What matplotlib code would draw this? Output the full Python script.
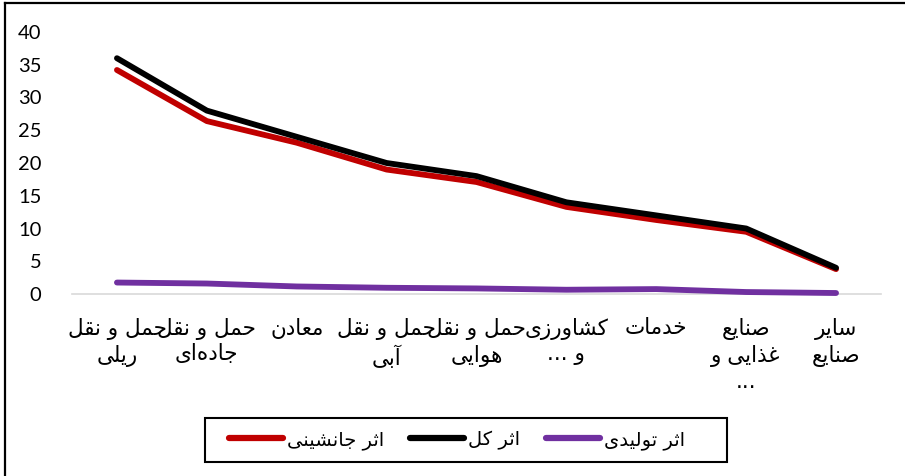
import matplotlib
matplotlib.use("Agg")
import matplotlib.pyplot as plt
from matplotlib.lines import Line2D
from matplotlib.patches import Rectangle

# ---------------- data ----------------
categories = [
    "حمل و نقل\nریلی",
    "حمل و نقل\nجاده\u200cای",
    "معادن",
    "حمل و نقل\nآبی",
    "حمل و نقل\nهوایی",
    "کشاورزی\nو ...",
    "خدمات",
    "صنایع\nغذایی و\n...",
    "سایر\nصنایع",
]
total_effect = [36, 28, 24, 20, 18, 14, 12, 10, 4]            # اثر کل
substitution_effect = [34.2, 26.4, 23.1, 19.0, 17.1, 13.3, 11.3, 9.5, 3.8]  # اثر جانشینی
production_effect = [1.75, 1.6, 1.15, 0.95, 0.85, 0.65, 0.75, 0.3, 0.15]    # اثر تولیدی
series_names = ["اثر جانشینی", "اثر کل", "اثر تولیدی"]
y_ticks = [0, 5, 10, 15, 20, 25, 30, 35, 40]

# ------------- minimal Persian shaping (matplotlib has no CTL) -------------
FORMS = {
    'ا': ('\uFE8D', '\uFE8E', None, None),
    'آ': ('\uFE81', '\uFE82', None, None),
    'ب': ('\uFE8F', '\uFE90', '\uFE91', '\uFE92'),
    'ت': ('\uFE95', '\uFE96', '\uFE97', '\uFE98'),
    'ث': ('\uFE99', '\uFE9A', '\uFE9B', '\uFE9C'),
    'ج': ('\uFE9D', '\uFE9E', '\uFE9F', '\uFEA0'),
    'ح': ('\uFEA1', '\uFEA2', '\uFEA3', '\uFEA4'),
    'خ': ('\uFEA5', '\uFEA6', '\uFEA7', '\uFEA8'),
    'د': ('\uFEA9', '\uFEAA', None, None),
    'ذ': ('\uFEAB', '\uFEAC', None, None),
    'ر': ('\uFEAD', '\uFEAE', None, None),
    'ز': ('\uFEAF', '\uFEB0', None, None),
    'س': ('\uFEB1', '\uFEB2', '\uFEB3', '\uFEB4'),
    'ش': ('\uFEB5', '\uFEB6', '\uFEB7', '\uFEB8'),
    'ص': ('\uFEB9', '\uFEBA', '\uFEBB', '\uFEBC'),
    'ع': ('\uFEC9', '\uFECA', '\uFECB', '\uFECC'),
    'غ': ('\uFECD', '\uFECE', '\uFECF', '\uFED0'),
    'ق': ('\uFED5', '\uFED6', '\uFED7', '\uFED8'),
    'ک': ('\uFB8E', '\uFB8F', '\uFB90', '\uFB91'),
    'ل': ('\uFEDD', '\uFEDE', '\uFEDF', '\uFEE0'),
    'م': ('\uFEE1', '\uFEE2', '\uFEE3', '\uFEE4'),
    'ن': ('\uFEE5', '\uFEE6', '\uFEE7', '\uFEE8'),
    'ه': ('\uFEE9', '\uFEEA', '\uFEEB', '\uFEEC'),
    'و': ('\uFEED', '\uFEEE', None, None),
    'ی': ('\uFBFC', '\uFBFD', '\uFBFE', '\uFBFF'),
}


def shape_line(s):
    out = []
    for i, c in enumerate(s):
        if c == '\u200c':
            continue
        if c not in FORMS:
            out.append(c)
            continue
        prev = s[i - 1] if i > 0 else None
        nxt = s[i + 1] if i + 1 < len(s) else None
        jp = prev in FORMS and FORMS[prev][2] is not None
        jn = FORMS[c][2] is not None and nxt in FORMS
        iso, fin, ini, med = FORMS[c]
        if jp and jn:
            out.append(med)
        elif jp:
            out.append(fin)
        elif jn:
            out.append(ini)
        else:
            out.append(iso)
    return ''.join(out)[::-1]


def rtl(text):
    return '\n'.join(shape_line(l) for l in text.split('\n'))


# ---------------- figure ----------------
fig = plt.figure(figsize=(9.05, 4.76), dpi=100)
ax = fig.add_axes([72 / 905, 1 - 294 / 476, (881 - 72) / 905, (294 - 32) / 476])

x = list(range(len(categories)))
lw = 4.2
ax.plot(x, production_effect, color="#7030A0", lw=lw, solid_capstyle="round",
        solid_joinstyle="round", zorder=3)
ax.plot(x, substitution_effect, color="#C00000", lw=lw, solid_capstyle="round",
        solid_joinstyle="round", zorder=3)
ax.plot(x, total_effect, color="#000000", lw=lw, solid_capstyle="round",
        solid_joinstyle="round", zorder=4)

ax.set_xlim(-0.5, len(categories) - 0.5)
ax.set_ylim(0, 40)
ax.set_yticks(y_ticks)
ax.set_yticklabels([str(v) for v in y_ticks], fontfamily="Lato", fontsize=14.5)
ax.set_xticks(x)
ax.set_xticklabels([rtl(c) for c in categories], fontfamily="DejaVu Sans",
                   fontsize=15.5, linespacing=1.3, va="top")
ax.tick_params(axis="y", length=0, pad=22)
ax.tick_params(axis="x", length=0, pad=17)

for side in ("left", "right", "top"):
    ax.spines[side].set_visible(False)
ax.spines["bottom"].set_color("#D9D9D9")
ax.spines["bottom"].set_linewidth(1.2)
ax.spines["bottom"].set_zorder(1)
for ln in ax.lines:
    ln.set_clip_on(False)

# legend
handles = [
    Line2D([], [], color="#C00000", lw=4.5, solid_capstyle="round"),
    Line2D([], [], color="#000000", lw=4.5, solid_capstyle="round"),
    Line2D([], [], color="#7030A0", lw=4.5, solid_capstyle="round"),
]
leg = fig.legend(handles, [rtl(n) for n in series_names], ncol=3,
                 loc="center", bbox_to_anchor=(457 / 905, 1 - 440 / 476),
                 prop={"family": "DejaVu Sans", "size": 14},
                 frameon=False, handlelength=2.8,
                 handletextpad=0.2, columnspacing=1.3, borderpad=0.5)
fig.add_artist(Rectangle((205 / 905, 1 - 462 / 476), (727 - 205) / 905, 44 / 476,
                         transform=fig.transFigure, fill=False, edgecolor="black",
                         lw=1.5))

# outer chart border (left and top visible)
fig.add_artist(Line2D([5 / 905, 5 / 905], [0, 1 - 3 / 476], color="black", lw=1.6,
                      transform=fig.transFigure))
fig.add_artist(Line2D([5 / 905, 1], [1 - 3 / 476, 1 - 3 / 476], color="black", lw=1.6,
                      transform=fig.transFigure))

fig.savefig("out.png", dpi=100)
